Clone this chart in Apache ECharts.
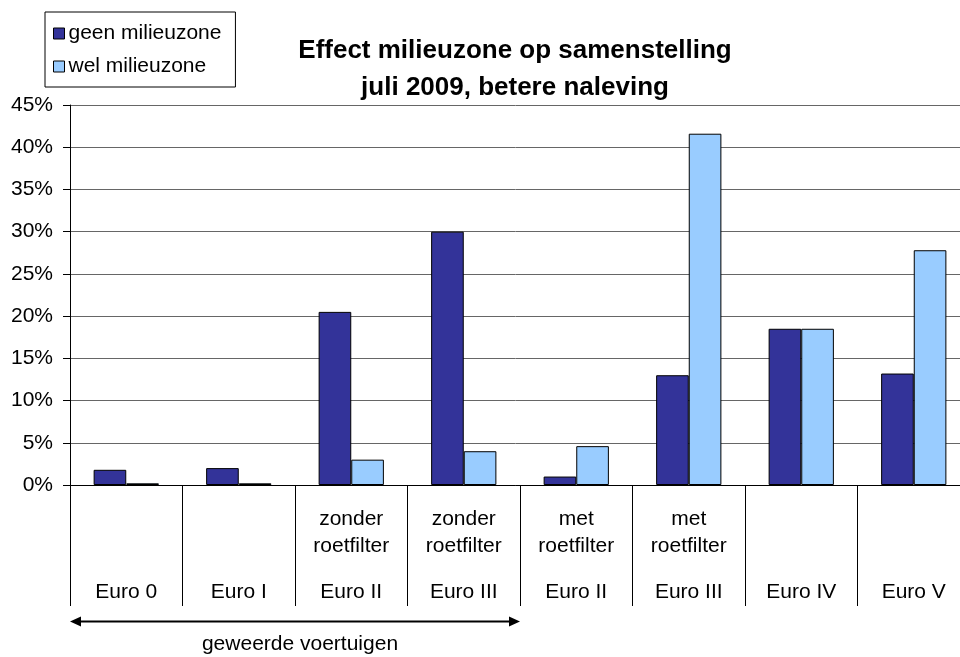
<!DOCTYPE html>
<html><head><meta charset="utf-8">
<script src="https://cdn.jsdelivr.net/npm/echarts@6/dist/echarts.min.js"></script>
<style>html,body{margin:0;padding:0;background:#fff}#c{width:960px;height:657px}</style>
</head><body><div id="c"></div>
<script>
const categories = ['Euro 0','Euro I','Euro II','Euro III','Euro II','Euro III','Euro IV','Euro V'];
const subLabels = ['','','zonder\nroetfilter','zonder\nroetfilter','met\nroetfilter','met\nroetfilter','',''];
const geenMilieuzone = [1.8, 2.0, 20.5, 30.0, 1.0, 13.0, 18.5, 13.2];
const welMilieuzone = [0.2, 0.2, 3.0, 4.0, 4.6, 41.6, 18.5, 27.8];
const seriesNames = ['geen milieuzone','wel milieuzone'];
const titleLines = ['Effect milieuzone op samenstelling','juli 2009, betere naleving'];
const FONT = '"Liberation Sans", Arial, sans-serif';

const chart = echarts.init(document.getElementById('c'), null, {renderer:'canvas'});
const idx = categories.map((_, i) => i);
chart.setOption({
  animation:false,
  backgroundColor:'#fff',
  textStyle:{fontFamily:FONT},
  title:{
    text: titleLines.join('\n'),
    left: 515, textAlign:'center', top: 32,
    padding:0,
    textStyle:{fontFamily:FONT,fontSize:26,fontWeight:'bold',color:'#000',lineHeight:37}
  },
  legend:{
    orient:'vertical', left:45, top:12,
    data: seriesNames,
    itemWidth:11, itemHeight:11, itemGap:12,
    padding:[11,14,10,8],
    borderColor:'#000', borderWidth:1,
    icon:'rect',
    itemStyle:{borderColor:'#000',borderWidth:1},
    textStyle:{fontFamily:FONT,fontSize:21,color:'#000',padding:[0,0,0,-1]}
  },
  grid:{left:70, top:105, width:900, height:380, outerBoundsMode:'none', containLabel:false},
  xAxis:[{
    type:'category', data: idx, position:'bottom',
    axisLine:{show:true,lineStyle:{color:'#000',width:1}},
    axisTick:{show:true,alignWithLabel:false,length:121,lineStyle:{color:'#000'}},
    axisLabel:{margin:97,formatter:(v)=>categories[v],fontFamily:FONT,fontSize:21,color:'#000',interval:0}
  },{
    type:'category', data: idx, position:'bottom',
    axisLine:{show:false}, axisTick:{show:false},
    axisLabel:{margin:21,formatter:(v)=>subLabels[v],fontFamily:FONT,fontSize:21,color:'#000',lineHeight:27,interval:0}
  }],
  yAxis:{
    type:'value', min:0, max:45, interval:5,
    axisLine:{show:true,lineStyle:{color:'#000'}},
    axisTick:{show:true,length:7,lineStyle:{color:'#000'}},
    axisLabel:{formatter:'{value}%',fontFamily:FONT,fontSize:21,color:'#000',margin:17},
    splitLine:{show:true,lineStyle:{color:'#666',width:1}}
  },
  series:[{
    name:seriesNames[0], type:'bar', data:geenMilieuzone, barGap:'0%', barCategoryGap:'42%',
    itemStyle:{color:'#333399',borderColor:'#000',borderWidth:1}
  },{
    name:seriesNames[1], type:'bar', data:welMilieuzone, barGap:'0%', barCategoryGap:'42%',
    itemStyle:{color:'#99ccff',borderColor:'#000',borderWidth:1}
  }],
  graphic:[
    {type:'line',shape:{x1:80,y1:621.5,x2:510,y2:621.5},style:{stroke:'#000',lineWidth:2}},
    {type:'polygon',shape:{points:[[70,621.5],[81,616.5],[81,626.5]]},style:{fill:'#000'}},
    {type:'polygon',shape:{points:[[520,621.5],[509,616.5],[509,626.5]]},style:{fill:'#000'}},
    {type:'text',x:300,y:644,style:{text:'geweerde voertuigen',textAlign:'center',textVerticalAlign:'middle',font:'21px '+FONT,fill:'#000'}}
  ]
});
</script></body></html>
